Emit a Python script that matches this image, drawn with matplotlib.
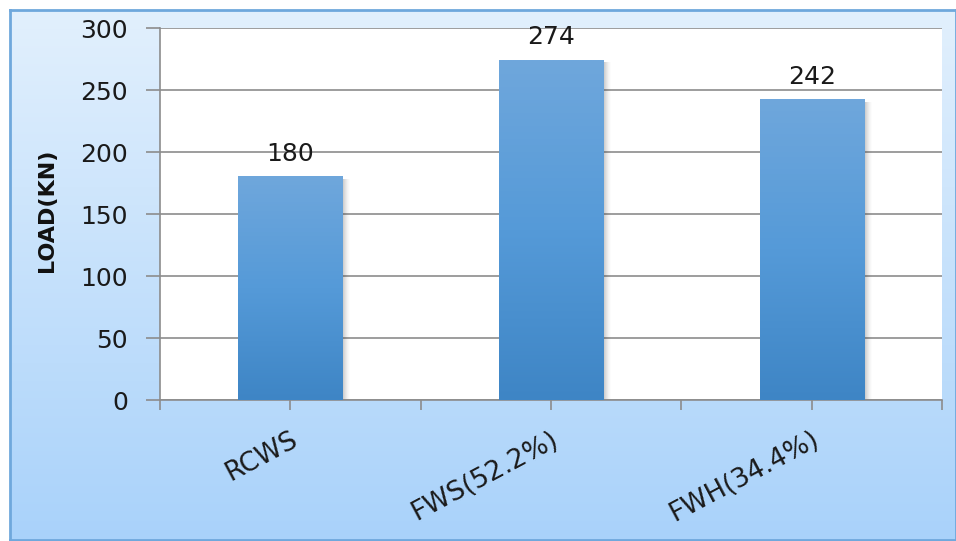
import numpy as np
import matplotlib
matplotlib.use("Agg")
import matplotlib.pyplot as plt
from matplotlib.colors import LinearSegmentedColormap
from matplotlib.patches import Rectangle

categories = ["RCWS", "FWS(52.2%)", "FWH(34.4%)"]
loads = [180, 274, 242]
yticks = [0, 50, 100, 150, 200, 250, 300]
ylabel = "LOAD(KN)"

plt.rcParams['font.family'] = ['DejaVu Sans']

W, H = 956, 541
fig = plt.figure(figsize=(W / 100, H / 100), dpi=100)
fig.patch.set_facecolor('white')

# background frame with vertical gradient
bg = fig.add_axes([10 / W, 1 - 540 / H, 946 / W, 530 / H], zorder=0)
grad = np.linspace(0, 1, 256).reshape(-1, 1)
bg_cmap = LinearSegmentedColormap.from_list('bg', ['#e2f0fd', '#a9d2fa'])
bg.imshow(grad, aspect='auto', cmap=bg_cmap, extent=[0, 1, 0, 1], origin='upper')
bg.set_xlim(0, 1); bg.set_ylim(0, 1)
bg.set_xticks([]); bg.set_yticks([])
for s in bg.spines.values():
    s.set_color('#6fa8dc'); s.set_linewidth(2)

ax = fig.add_axes([160 / W, 1 - 400 / H, 782 / W, 372 / H], zorder=1)
ax.set_facecolor('white')
n = len(categories)
x = np.arange(n)

bar_cmap = LinearSegmentedColormap.from_list('bar', ['#3e85c5', '#559ad8', '#6fa7dc'])
width = 0.4
px = 1.0 / 260.7
for xi, v in zip(x, loads):
    # soft shadow on the right
    for k in range(8):
        ax.add_patch(Rectangle((xi + width / 2 + k * px, 0), px, v - 1.5,
                               facecolor='#303030', alpha=0.28 * (1 - k / 8) ** 1.5,
                               edgecolor='none', zorder=2, linewidth=0))
    ax.imshow(grad, aspect='auto', cmap=bar_cmap,
              extent=[xi - width / 2, xi + width / 2, 0, v], origin='lower', zorder=3)
    ax.text(xi, v + 9, str(v), ha='center', va='bottom', fontsize=18, color='#1a1a1a', zorder=4)
ax.set_xlim(-0.5, n - 0.5)
ax.set_ylim(0, 300)

ax.set_yticks(yticks)
ax.set_yticklabels([str(t) for t in yticks], fontsize=18, color='#1a1a1a')
ax.yaxis.grid(True, color='#8c8c8c', linewidth=1.2)
ax.set_axisbelow(True)
ax.tick_params(axis='y', length=10, width=1.2, color='#8c8c8c', pad=13)

ax.set_xticks(np.arange(-0.5, n, 1.0))
ax.set_xticklabels([])
ax.set_xticks(x, minor=True)
ax.set_xticklabels(categories, minor=True, rotation=28, ha='right', rotation_mode='anchor',
                   fontsize=19, color='#1a1a1a')
ax.tick_params(axis='x', which='both', length=7, width=1.2, color='#8c8c8c')
ax.tick_params(axis='x', which='minor', pad=12)

for side in ['top', 'right']:
    ax.spines[side].set_visible(False)
for side in ['left', 'bottom']:
    ax.spines[side].set_color('#8c8c8c'); ax.spines[side].set_linewidth(1.2)

ax.set_ylabel(ylabel, fontsize=16, fontweight='bold', color='#111111')
ax.yaxis.set_label_coords(-0.132, 0.51)

fig.savefig('out.png', dpi=100)
